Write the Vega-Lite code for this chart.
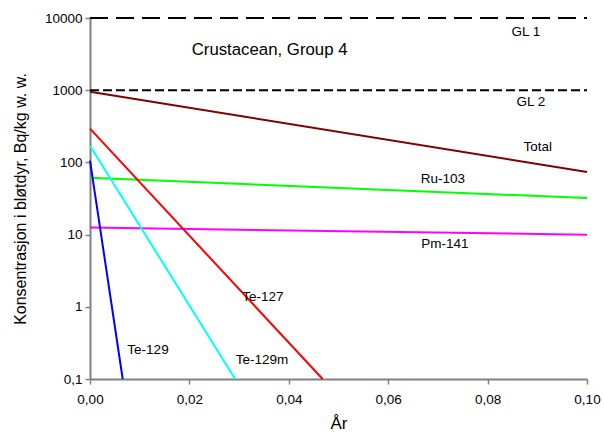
{
  "$schema": "https://vega.github.io/schema/vega-lite/v6.json",
  "width": 497,
  "height": 361,
  "autosize": {"type": "none"},
  "padding": {"left": 90, "top": 18, "right": 17, "bottom": 57},
  "background": "white",
  "config": {
    "view": {"stroke": null},
    "font": "Liberation Sans",
    "axis": {"grid": false, "domainColor": "#808080", "domainWidth": 2, "tickColor": "#808080", "tickWidth": 1.5, "tickSize": 5, "labelColor": "black", "labelFontSize": 13.5, "labelFont": "Liberation Sans", "titleFont": "Liberation Sans", "titleFontSize": 17, "titleFontWeight": "normal", "titleColor": "black", "labelFlush": false, "labelOverlap": false}
  },
  "datasets": {
    "lines": [
      {"series": "Total", "x": 0, "y": 953},
      {"series": "Total", "x": 0.1, "y": 73.6},
      {"series": "Ru-103", "x": 0, "y": 61.4},
      {"series": "Ru-103", "x": 0.1, "y": 32.1},
      {"series": "Pm-141", "x": 0, "y": 12.5},
      {"series": "Pm-141", "x": 0.1, "y": 9.97},
      {"series": "Te-127", "x": 0, "y": 293},
      {"series": "Te-127", "x": 0.0468, "y": 0.1},
      {"series": "Te-129m", "x": 0, "y": 170},
      {"series": "Te-129m", "x": 0.0292, "y": 0.1},
      {"series": "Te-129", "x": 0, "y": 106},
      {"series": "Te-129", "x": 0.00658, "y": 0.1}
    ],
    "gl": [
      {"series": "GL 1", "x": 0, "y": 10000},
      {"series": "GL 1", "x": 0.1, "y": 10000},
      {"series": "GL 2", "x": 0, "y": 1000},
      {"series": "GL 2", "x": 0.1, "y": 1000}
    ],
    "labels": [
      {"text": "GL 1", "x": 0.0877, "y": 6400},
      {"text": "GL 2", "x": 0.0887, "y": 687},
      {"text": "Total", "x": 0.0901, "y": 163},
      {"text": "Ru-103", "x": 0.0710, "y": 58.9},
      {"text": "Pm-141", "x": 0.0714, "y": 7.41},
      {"text": "Te-127", "x": 0.0348, "y": 1.37},
      {"text": "Te-129m", "x": 0.0346, "y": 0.183},
      {"text": "Te-129", "x": 0.01167, "y": 0.252}
    ],
    "title": [
      {"text": "Crustacean, Group 4", "x": 0.02046, "y": 3606}
    ]
  },
  "encoding": {
    "x": {"field": "x", "type": "quantitative", "scale": {"domain": [0, 0.1], "nice": false, "zero": false},
      "axis": {"title": "År", "values": [0, 0.02, 0.04, 0.06, 0.08, 0.1], "labelExpr": "replace(format(datum.value, '.2f'), '.', ',')", "labelPadding": 8, "titlePadding": 10}},
    "y": {"field": "y", "type": "quantitative", "scale": {"type": "log", "domain": [0.1, 10000], "nice": false},
      "axis": {"title": "Konsentrasjon i bløtdyr, Bq/kg w. w.", "titleFontSize": 16, "values": [0.1, 1, 10, 100, 1000, 10000], "labelExpr": "datum.value < 1 ? '0,1' : format(datum.value, 'd')", "labelPadding": 3, "titlePadding": 16}}
  },
  "layer": [
    {
      "data": {"name": "gl"},
      "transform": [{"filter": "datum.series == 'GL 1'"}],
      "mark": {"type": "line", "color": "black", "strokeWidth": 2, "strokeDash": [18, 8]},
      "encoding": {"detail": {"field": "series"}}
    },
    {
      "data": {"name": "gl"},
      "transform": [{"filter": "datum.series == 'GL 2'"}],
      "mark": {"type": "line", "color": "black", "strokeWidth": 2, "strokeDash": [9, 4]},
      "encoding": {"detail": {"field": "series"}}
    },
    {
      "data": {"name": "lines"},
      "mark": {"type": "line", "strokeWidth": 2},
      "encoding": {
        "color": {"field": "series", "type": "nominal", "legend": null,
          "scale": {"domain": ["Total", "Ru-103", "Pm-141", "Te-127", "Te-129m", "Te-129"], "range": ["#800000", "#00ff00", "#ff00ff", "#ff0000", "#00ffff", "#0000ff"]}}
      }
    },
    {
      "data": {"name": "labels"},
      "mark": {"type": "text", "fontSize": 13.5, "color": "black", "align": "center", "baseline": "middle"},
      "encoding": {"text": {"field": "text"}}
    },
    {
      "data": {"name": "title"},
      "mark": {"type": "text", "fontSize": 16.8, "color": "black", "align": "left", "baseline": "middle"},
      "encoding": {"text": {"field": "text"}}
    }
  ]
}
